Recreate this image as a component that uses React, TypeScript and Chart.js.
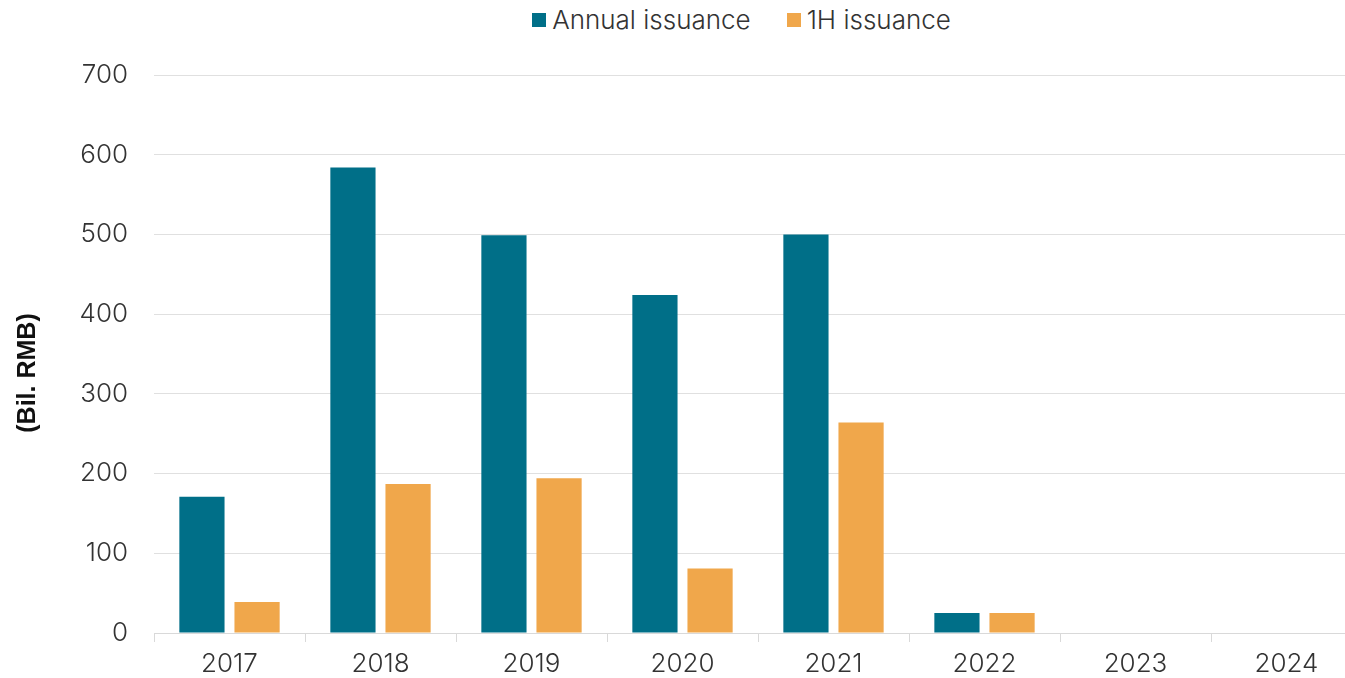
import React, { useEffect, useRef } from "react";
import { Chart, registerables } from "chart.js";

Chart.register(...registerables);

const categories = ["2017", "2018", "2019", "2020", "2021", "2022", "2023", "2024"];
const annualIssuance = [171, 584, 499, 424, 500, 25, 0, 0];
const firstHalfIssuance = [39, 187, 194, 81, 264, 25, 0, 0];
const seriesNames = ["Annual issuance", "1H issuance"];
const seriesColors = ["#006F88", "#F0A74B"];
const yTicks = { min: 0, max: 700, step: 100 };
const yTitle = "(Bil. RMB)";

const FONT = "Inter, 'Open Sans', sans-serif";

export default function App() {
  const canvasRef = useRef<HTMLCanvasElement | null>(null);

  useEffect(() => {
    const canvas = canvasRef.current;
    if (!canvas) return;
    const yTitlePlugin = {
      id: "yTitle",
      afterDraw(chart: any) {
        const ctx = chart.ctx;
        ctx.save();
        ctx.translate(28, 373);
        ctx.rotate(-Math.PI / 2);
        ctx.font = "bold 25px 'Liberation Sans', Arial, sans-serif";
        ctx.fillStyle = "#111111";
        ctx.textAlign = "center";
        ctx.textBaseline = "middle";
        ctx.fillText(yTitle, 0, 0);
        ctx.restore();
      },
    };
    const chart = new Chart(canvas, {
      type: "bar",
      data: {
        labels: categories,
        datasets: [
          {
            label: seriesNames[0],
            data: annualIssuance,
            backgroundColor: seriesColors[0],
            barPercentage: 0.82,
            categoryPercentage: 0.73,
          },
          {
            label: seriesNames[1],
            data: firstHalfIssuance,
            backgroundColor: seriesColors[1],
            barPercentage: 0.82,
            categoryPercentage: 0.73,
          },
        ],
      },
      options: {
        responsive: false,
        animation: false,
        devicePixelRatio: 1,
        layout: { padding: { top: 75, right: 8, left: 0, bottom: 0 } },
        plugins: {
          legend: { display: false },
          tooltip: { enabled: false },
        },
        scales: {
          x: {
            offset: true,
            grid: {
              offset: true,
              drawOnChartArea: false,
              drawTicks: true,
              tickLength: 9,
              color: "#d9d9d9",
            },
            border: { color: "#d9d9d9", width: 1 },
            ticks: {
              color: "#333333",
              font: { family: FONT, size: 26, weight: 300 },
              padding: 7,
              maxRotation: 0,
            },
            afterFit(scale: any) {
              scale.height = 45;
            },
          },
          y: {
            min: yTicks.min,
            max: yTicks.max,
            grid: { color: "#e0e0e0", drawTicks: false },
            border: { display: false },
            ticks: {
              stepSize: yTicks.step,
              color: "#333333",
              font: { family: FONT, size: 26, weight: 300 },
              padding: 26,
            },
            afterFit(scale: any) {
              scale.width = 154;
            },
          },
        },
      },
      plugins: [yTitlePlugin],
    });
    return () => chart.destroy();
  }, []);

  return (
    <div
      style={{
        position: "fixed",
        left: 0,
        top: 0,
        width: 1345,
        height: 678,
        overflow: "hidden",
        background: "#ffffff",
      }}
    >
      <div
        style={{
          position: "absolute",
          top: 5,
          left: 0,
          width: 1483,
          display: "flex",
          justifyContent: "center",
          alignItems: "center",
          gap: 36,
          fontFamily: FONT,
          fontWeight: 300,
          fontSize: 26,
          color: "#333333",
          lineHeight: "30px",
        }}
      >
        {seriesNames.map((name, i) => (
          <div key={name} style={{ display: "flex", alignItems: "center" }}>
            <span
              style={{
                display: "inline-block",
                width: 14,
                height: 14,
                background: seriesColors[i],
                marginRight: 6,
              }}
            />
            <span>{name}</span>
          </div>
        ))}
      </div>
      <canvas
        ref={canvasRef}
        width={1370}
        height={678}
        style={{ position: "absolute", left: 0, top: 0, width: 1370, height: 678 }}
      />
    </div>
  );
}
